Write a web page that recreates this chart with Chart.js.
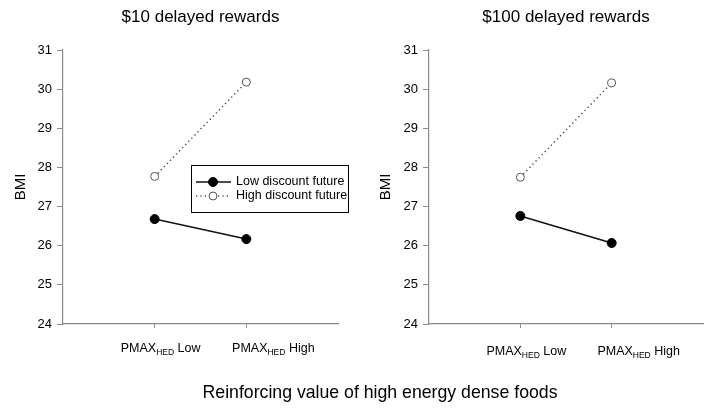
<!DOCTYPE html>
<html>
<head>
<meta charset="utf-8">
<script src="https://cdn.jsdelivr.net/npm/chart.js@4.4.1/dist/chart.umd.min.js"></script>
<style>
  html, body { margin: 0; padding: 0; background: #fff; overflow: hidden; }
  #wrap { position: relative; width: 714px; height: 415px; font-family: Arial, "Liberation Sans", sans-serif; }
  canvas { position: absolute; top: 0; }
  #c1 { left: 0; }
  #c2 { left: 357px; }
  #xlab { position: absolute; left: 80px; width: 600px; top: 382px; text-align: center; font-size: 17.7px; color: #000; line-height: 20px; }
</style>
</head>
<body>
<div id="wrap">
  <canvas id="c1" width="357" height="415"></canvas>
  <canvas id="c2" width="357" height="415"></canvas>
  <div id="xlab">Reinforcing value of high energy dense foods</div>
</div>
<script>
// ---- data ----
const categories = ['Low', 'High'];          // PMAX_HED level
const seriesNames = ['Low discount future', 'High discount future'];
const panelTitles = ['$10 delayed rewards', '$100 delayed rewards'];
const lowDiscount10 = [26.68, 26.17];
const highDiscount10 = [27.77, 30.18];
const lowDiscount100 = [26.76, 26.07];
const highDiscount100 = [27.75, 30.16];
const yTicks = [24, 25, 26, 27, 28, 29, 30, 31];
const yTitle = 'BMI';

const FONT = 'Arial, "Liberation Sans", sans-serif';
const AXIS = '#8a8a8a';

function pts(vals) { return vals.map((v, i) => ({ x: i + 1, y: v })); }

const titlePlugin = {
  id: 'panelTitle',
  afterDraw(chart, args, opts) {
    const { ctx, chartArea } = chart;
    ctx.save();
    ctx.font = '17px ' + FONT;
    ctx.fillStyle = '#000';
    ctx.textAlign = 'center';
    ctx.textBaseline = 'middle';
    ctx.fillText(opts.text, (chartArea.left + chartArea.right) / 2, opts.y);
    ctx.restore();
  }
};

const catLabelPlugin = {
  id: 'catLabels',
  afterDraw(chart, args, opts) {
    const { ctx, chartArea } = chart;
    const xs = chart.scales.x;
    ctx.save();
    ctx.fillStyle = '#000';
    ctx.textBaseline = 'middle';
    categories.forEach((c, i) => {
      const cx = xs.getPixelForValue(i + 1) + opts.shifts[i];
      const y = chartArea.bottom + opts.offset;
      ctx.font = '12.5px ' + FONT;
      const w1 = ctx.measureText('PMAX').width;
      const w3 = ctx.measureText(' ' + c).width;
      ctx.font = '8.5px ' + FONT;
      const w2 = ctx.measureText('HED').width;
      let x = cx - (w1 + w2 + w3) / 2;
      ctx.textAlign = 'left';
      ctx.font = '12.5px ' + FONT;
      ctx.fillText('PMAX', x, y);
      ctx.font = '8.5px ' + FONT;
      ctx.fillText('HED', x + w1, y + 4);
      ctx.font = '12.5px ' + FONT;
      ctx.fillText(' ' + c, x + w1 + w2, y);
    });
    ctx.restore();
  }
};

const boxLegendPlugin = {
  id: 'boxLegend',
  afterDraw(chart, args, opts) {
    if (!opts.show) return;
    const { ctx, chartArea } = chart;
    const x0 = chartArea.left + opts.dx, y0 = chartArea.top + opts.dy;
    const w = opts.w, h = opts.h;
    ctx.save();
    ctx.strokeStyle = '#000';
    ctx.lineWidth = 1;
    ctx.strokeRect(x0 + 0.5, y0 + 0.5, w, h);
    chart.data.datasets.forEach((ds, i) => {
      const y = y0 + 17 + i * 14;
      ctx.beginPath();
      ctx.strokeStyle = ds.borderColor;
      ctx.lineWidth = ds.borderWidth;
      ctx.setLineDash(ds.borderDash || []);
      ctx.moveTo(x0 + 5, y);
      ctx.lineTo(x0 + 40, y);
      ctx.stroke();
      ctx.setLineDash([]);
      ctx.beginPath();
      ctx.arc(x0 + 22, y, ds.pointRadius, 0, Math.PI * 2);
      ctx.fillStyle = ds.pointBackgroundColor;
      ctx.fill();
      ctx.lineWidth = ds.pointBorderWidth;
      ctx.strokeStyle = ds.pointBorderColor;
      ctx.stroke();
      ctx.fillStyle = '#000';
      ctx.font = '12.5px ' + FONT;
      ctx.textAlign = 'left';
      ctx.textBaseline = 'middle';
      ctx.fillText(ds.label, x0 + 45, y);
    });
    ctx.restore();
  }
};

function makeChart(id, lowVals, highVals, cfg) {
  return new Chart(document.getElementById(id), {
    type: 'line',
    data: {
      datasets: [
        {
          label: seriesNames[0], data: pts(lowVals),
          borderColor: '#111', borderWidth: 1.5,
          pointRadius: 4.5, pointBackgroundColor: '#000', pointBorderColor: '#000', pointBorderWidth: 1
        },
        {
          label: seriesNames[1], data: pts(highVals),
          borderColor: '#444', borderWidth: 1.5, borderDash: [1.2, 3.2],
          pointRadius: 4, pointBackgroundColor: '#fff', pointBorderColor: '#555', pointBorderWidth: 1
        }
      ]
    },
    options: {
      responsive: false,
      animation: false,
      layout: { padding: { top: 50, right: cfg.padRight, left: 0, bottom: 0 } },
      plugins: {
        legend: { display: false },
        tooltip: { enabled: false },
        panelTitle: { text: cfg.title, y: 17 },
        catLabels: { offset: cfg.labelOffset, shifts: [6, 27] },
        boxLegend: { show: cfg.legend, dx: 128, dy: 115, w: 157, h: 47 }
      },
      scales: {
        x: {
          type: 'linear', min: 0, max: categories.length + 1,
          afterFit(s) { s.height = 91; },
          afterBuildTicks(s) { s.ticks = [0, 1, 2, 3].map(v => ({ value: v })); },
          ticks: { callback: () => '', stepSize: 1 },
          grid: {
            drawOnChartArea: false, tickLength: 4,
            color: (c) => (c.tick && (c.tick.value === 1 || c.tick.value === 2)) ? AXIS : 'rgba(0,0,0,0)'
          },
          border: { color: AXIS, width: 1.2 }
        },
        y: {
          min: yTicks[0], max: yTicks[yTicks.length - 1],
          afterFit(s) { s.width = cfg.yWidth; },
          afterBuildTicks(s) { s.ticks = yTicks.map(v => ({ value: v })); },
          ticks: { font: { size: 13, family: FONT }, color: '#000', padding: 5 },
          grid: { drawOnChartArea: false, tickLength: 6, color: AXIS },
          border: { color: AXIS, width: 1.2 },
          title: { display: true, text: yTitle, font: { size: 15, family: FONT }, color: '#000', padding: { top: cfg.titlePad, bottom: 0 } }
        }
      }
    },
    plugins: [titlePlugin, catLabelPlugin, boxLegendPlugin]
  });
}

makeChart('c1', lowDiscount10, highDiscount10, { title: panelTitles[0], padRight: 19, yWidth: 63, titlePad: 12, labelOffset: 25, legend: true });
makeChart('c2', lowDiscount100, highDiscount100, { title: panelTitles[1], padRight: 11, yWidth: 72, titlePad: 20, labelOffset: 28, legend: false });
</script>
</body>
</html>
